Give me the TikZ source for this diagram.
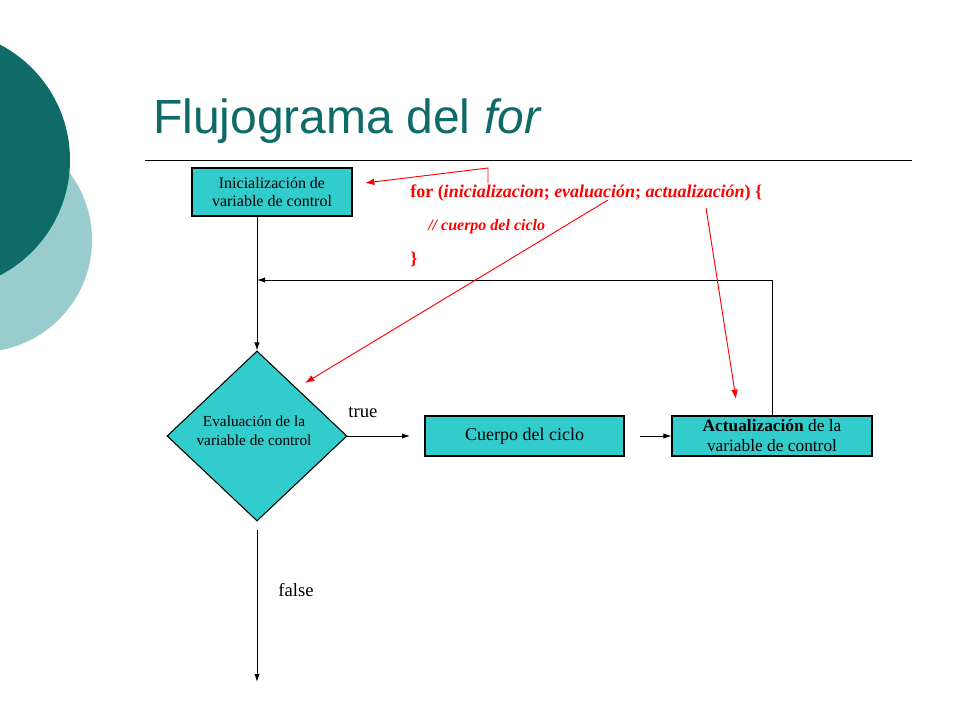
\documentclass[tikz,border=0pt]{standalone}
\usepackage{fontspec}
\setmainfont{Liberation Serif}
\newfontfamily\sans{Liberation Sans}
\usetikzlibrary{shapes.geometric,arrows.meta}
\definecolor{teal1}{HTML}{0E6B68}
\definecolor{teal2}{HTML}{99CDCD}
\definecolor{boxc}{HTML}{33CCCC}
\definecolor{redc}{HTML}{FF0000}
\begin{document}
\begin{tikzpicture}[x=0.75pt,y=-0.75pt,
  box/.style={draw=black,fill=boxc,line width=0.8pt,inner sep=0pt,align=center,font=\fontsize{12}{14}\selectfont},
  arr/.style={-{Latex[length=6pt,width=4pt]},line width=0.7pt},
  rarr/.style={-{Latex[length=7pt,width=5pt]},draw=redc,line width=0.7pt},
  code/.style={text=redc,anchor=west,inner sep=0pt,font=\fontsize{13.5}{15}\selectfont\bfseries}]
\useasboundingbox (0,0) rectangle (960,720);
\fill[white] (0,0) rectangle (960,720);
\begin{scope}
\clip (0,0) rectangle (960,720);
\fill[teal2] (-20,240) circle (112);
\fill[teal1] (-60,160) circle (130);
\end{scope}
\node[anchor=west,inner sep=0pt,text=teal1,font=\sans\fontsize{36}{40}\selectfont] (title) at (153,121) {Flujograma del \textit{for}};
\draw[line width=0.6pt] (145,160) -- (912,160);
\node[box,minimum width=160*0.75pt,minimum height=48*0.75pt] (init) at (272,192) {Inicialización de\\variable de control};
\node[box,diamond,minimum width=180*0.75pt,minimum height=170*0.75pt,aspect=1.06] (eval) at (257,436) {};
\node[align=center,inner sep=0pt,font=\fontsize{11.5}{14}\selectfont] (evalt) at (254,431) {Evaluación de la\\variable de control};
\node[box,minimum width=199*0.75pt,minimum height=40*0.75pt,font=\fontsize{13.5}{15}\selectfont] (body) at (524.5,436) {Cuerpo del ciclo};
\node[box,minimum width=200*0.75pt,minimum height=40*0.75pt,font=\fontsize{13}{15}\selectfont] (upd) at (772,436) {\textbf{Actualización} de la\\variable de control};
\coordinate (ibot) at (257,216);
\draw[arr] (ibot) -- (eval.north);
\coordinate (ret) at (257,280);
\draw[arr] (upd.north) -- (772,280) -- (ret);
\coordinate (tend) at (410,436);
\draw[arr] (347,436) -- (tend);
\node[font=\fontsize{14}{16}\selectfont] (tl) at (363,412) {true};
\draw[arr] (640,436) -- (upd.west);
\coordinate (fend) at (257,682);
\draw[arr] (257,530) -- (fend);
\node[font=\fontsize{14}{16}\selectfont] (fl) at (296,590) {false};
\node[code] (c1) at (410,193) {for (\textit{inicializacion}; \textit{evaluación}; \textit{actualización}) \{};
\node[code,font=\fontsize{12}{14}\selectfont\bfseries\itshape] (c2) at (428,227) {// cuerpo del ciclo};
\node[code] (c3) at (410,259) {\}};
\coordinate (r1) at (488,183);
\draw[rarr] (r1) -- (488,168) -- (365,183);
\coordinate (r2) at (608,200);
\coordinate (e2) at (305,383);
\draw[rarr] (r2) -- (e2);
\coordinate (r3) at (706,208);
\coordinate (e3) at (736,399);
\draw[rarr] (r3) -- (e3);
\end{tikzpicture}
\end{document}
